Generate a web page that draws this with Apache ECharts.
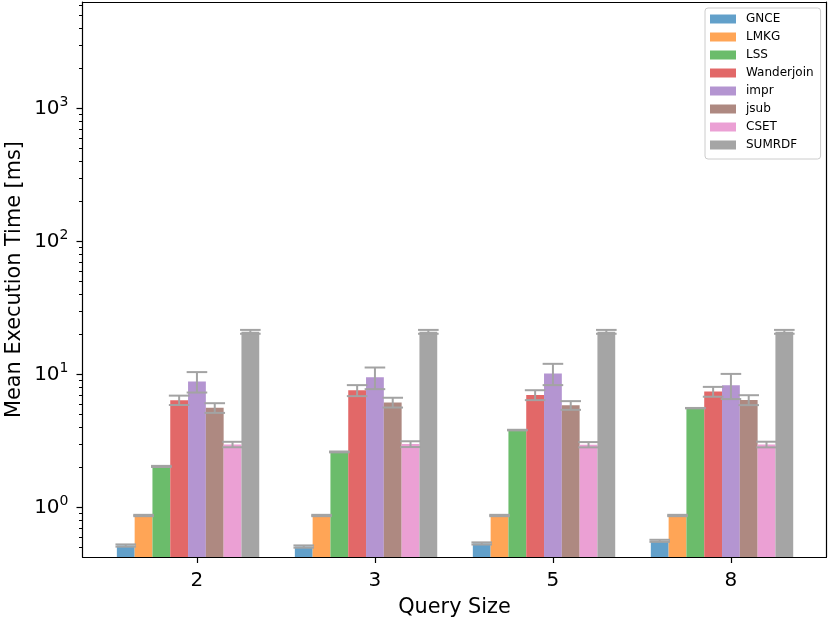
<!DOCTYPE html>
<html><head><meta charset="utf-8">
<script src="https://cdn.jsdelivr.net/npm/echarts@6/dist/echarts.min.js"></script>
<style>html,body{margin:0;padding:0;background:#fff}#c{width:830px;height:622px}</style>
</head><body><div id="c"></div>
<script>
// ---- data ----
const categories = ['2', '3', '5', '8'];
const methods = ['GNCE', 'LMKG', 'LSS', 'Wanderjoin', 'impr', 'jsub', 'CSET', 'SUMRDF'];
const GNCE       = [0.516, 0.507, 0.535, 0.56];
const LMKG       = [0.868, 0.868, 0.868, 0.868];
const LSS        = [2.03, 2.61, 3.81, 5.57];
const Wanderjoin = [6.4, 7.58, 7.0, 7.42];
const impr       = [8.85, 9.5, 10.15, 8.3];
const jsub       = [5.6, 6.15, 5.85, 6.42];
const CSET       = [2.97, 2.99, 2.96, 2.97];
const SUMRDF     = [20.9, 20.9, 20.9, 20.9];
const errGNCE       = [0.01, 0.01, 0.01, 0.01];
const errLMKG       = [0.01, 0.01, 0.01, 0.01];
const errLSS        = [0.02, 0.02, 0.02, 0.02];
const errWanderjoin = [0.52, 0.72, 0.6, 0.63];
const errImpr       = [1.55, 1.76, 1.85, 1.78];
const errJsub       = [0.47, 0.52, 0.44, 0.55];
const errCSET       = [0.14, 0.15, 0.135, 0.145];
const errSUMRDF     = [0.7, 0.7, 0.7, 0.7];
const yMajorTicks = [1, 10, 100, 1000];
const yMinorTicks = [0.5, 0.6, 0.7, 0.8, 0.9, 2, 3, 4, 5, 6, 7, 8, 9, 20, 30, 40, 50, 60, 70, 80, 90,
                     200, 300, 400, 500, 600, 700, 800, 900, 2000, 3000, 4000, 5000, 6000];

const means = [GNCE, LMKG, LSS, Wanderjoin, impr, jsub, CSET, SUMRDF];
const errs = [errGNCE, errLMKG, errLSS, errWanderjoin, errImpr, errJsub, errCSET, errSUMRDF];
const colors = ['#62a0ca', '#ffa556', '#6bbc6b', '#e26868', '#b495d1', '#ae8981', '#eba0d4', '#a5a5a5'];
const ERR_COLOR = '#a3a3a3';
const FONT = 'DejaVu Sans';
const BAR_W = 0.1;
const Y_MIN = 0.423, Y_MAX = 6320;
const X_MIN = -0.643, X_MAX = 3.537;

const chart = echarts.init(document.getElementById('c'));

const barSeries = methods.map((name, j) => ({
  name: name,
  type: 'custom',
  xAxisIndex: 0, yAxisIndex: 0,
  itemStyle: { color: colors[j] },
  encode: { x: 0, y: 1 },
  data: means[j].map((v, i) => [i + (j - 4) * BAR_W, v]),
  z: 2,
  renderItem: function (params, api) {
    const x = api.value(0), v = api.value(1);
    const top = api.coord([x, v]);
    const cs = params.coordSys;
    const w = api.size([BAR_W, 0])[0];
    const bottom = cs.y + cs.height;
    return { type: 'rect', shape: { x: top[0] - w / 2, y: top[1], width: w, height: bottom - top[1] },
             style: { fill: colors[j] } };
  }
}));

const errData = [];
methods.forEach((name, j) => {
  means[j].forEach((v, i) => errData.push([i + (j - 4) * BAR_W, v - errs[j][i], v + errs[j][i]]));
});

const errSeries = {
  name: 'err', type: 'custom', xAxisIndex: 0, yAxisIndex: 0, z: 5,
  encode: { x: 0, y: [1, 2] },
  data: errData,
  renderItem: function (params, api) {
    const x = api.value(0);
    const lo = api.coord([x, api.value(1)]);
    const hi = api.coord([x, api.value(2)]);
    const hw = 10.3;
    const st = { stroke: ERR_COLOR, lineWidth: 2 };
    return { type: 'group', children: [
      { type: 'line', shape: { x1: lo[0], y1: lo[1], x2: hi[0], y2: hi[1] }, style: st },
      { type: 'line', shape: { x1: lo[0] - hw, y1: lo[1], x2: lo[0] + hw, y2: lo[1] }, style: st },
      { type: 'line', shape: { x1: hi[0] - hw, y1: hi[1], x2: hi[0] + hw, y2: hi[1] }, style: st }
    ] };
  }
};

const axisLineStyle = { color: '#000', width: 1.2 };

chart.setOption({
  animation: false,
  backgroundColor: '#fff',
  textStyle: { fontFamily: FONT },
  grid: { left: 82.5, right: 3.5, top: 2, bottom: 65, containLabel: false, outerBoundsMode: 'none' },
  legend: {
    data: methods, orient: 'vertical', left: 705, top: 8,
    itemWidth: 26, itemHeight: 9, itemGap: 6, icon: 'rect',
    padding: [5, 7, 8, 5],
    borderColor: '#cccccc', borderWidth: 1, borderRadius: 3,
    backgroundColor: 'rgba(255,255,255,0.8)',
    textStyle: { fontFamily: FONT, fontSize: 12, color: '#000', padding: [0, 0, 0, 5] }
  },
  xAxis: [
    {
      type: 'value', min: X_MIN, max: X_MAX, position: 'bottom',
      name: 'Query Size', nameLocation: 'middle', nameGap: 40, nameMoveOverlap: false,
      nameTextStyle: { fontFamily: FONT, fontSize: 20.8, color: '#000' },
      axisLine: { show: true, onZero: false, lineStyle: axisLineStyle },
      axisTick: { show: true, customValues: [0, 1, 2, 3], length: 6, lineStyle: axisLineStyle },
      axisLabel: { customValues: [0, 1, 2, 3], formatter: v => categories[Math.round(v)],
                   fontFamily: FONT, fontSize: 20, color: '#000', margin: 14 },
      splitLine: { show: false }
    },
    {
      type: 'value', min: X_MIN, max: X_MAX, position: 'top',
      axisLine: { show: true, onZero: false, lineStyle: axisLineStyle },
      axisTick: { show: false }, axisLabel: { show: false }, splitLine: { show: false }
    }
  ],
  yAxis: [
    {
      type: 'log', logBase: 10, min: Y_MIN, max: Y_MAX, position: 'left',
      name: 'Mean Execution Time [ms]', nameLocation: 'middle', nameGap: 57, nameRotate: 90,
      nameMoveOverlap: false,
      nameTextStyle: { fontFamily: FONT, fontSize: 20.8, color: '#000' },
      axisLine: { show: true, onZero: false, lineStyle: axisLineStyle },
      axisTick: { show: true, customValues: yMajorTicks, length: 6, lineStyle: axisLineStyle },
      axisLabel: {
        customValues: yMajorTicks, margin: 14,
        formatter: v => '{b|10}{s|' + Math.round(Math.log10(v)) + '}',
        rich: {
          b: { fontFamily: FONT, fontSize: 20, color: '#000' },
          s: { fontFamily: FONT, fontSize: 14, color: '#000', padding: [0, 0, 12, 0] }
        }
      },
      splitLine: { show: false }, minorTick: { show: false }
    },
    {
      type: 'log', logBase: 10, min: Y_MIN, max: Y_MAX, position: 'left',
      axisLine: { show: false, onZero: false },
      axisTick: { show: true, customValues: yMinorTicks, length: 3.5, lineStyle: { color: '#000', width: 1 } },
      axisLabel: { show: false }, splitLine: { show: false }
    },
    {
      type: 'log', logBase: 10, min: Y_MIN, max: Y_MAX, position: 'right',
      axisLine: { show: true, onZero: false, lineStyle: axisLineStyle },
      axisTick: { show: false }, axisLabel: { show: false }, splitLine: { show: false }
    }
  ],
  series: barSeries.concat([errSeries])
});
</script>
</body></html>
